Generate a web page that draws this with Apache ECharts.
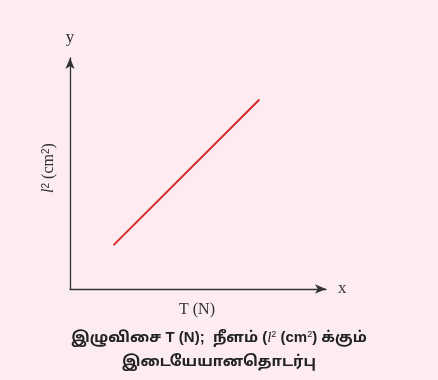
<!DOCTYPE html>
<html><head><meta charset="utf-8">
<script src="https://cdn.jsdelivr.net/npm/echarts@6/dist/echarts.min.js"></script>
<style>html,body{margin:0;padding:0;background:#fcecf1;}#c{width:438px;height:380px;}</style>
</head><body><div id="c"></div>
<script>
const tensionT = [1.7, 7.4];
const lengthSq = [1.9, 8.2];
const xAxisName = 'x';
const yAxisName = 'y';
const xLabel = 'T (N)';
const captionLine2 = 'இடையேயானதொடர்பு';

const chart = echarts.init(document.getElementById('c'));
const serif = '"Liberation Serif","DejaVu Serif",serif';
const capFont = '"Liberation Sans","Noto Sans Tamil","Lohit Tamil","Noto Sans",sans-serif';
chart.setOption({
  backgroundColor: '#fcecf1',
  animation: false,
  grid: {left: 70, right: 112, top: 58, bottom: 91},
  xAxis: {
    type: 'value', min: 0, max: 10,
    name: xAxisName, nameLocation: 'end', nameGap: 12,
    nameTextStyle: {fontFamily: serif, fontSize: 17, color: '#333', verticalAlign: 'middle'},
    axisLine: {show: true, symbol: ['none', 'arrow'], symbolSize: [7, 11], lineStyle: {color: '#333', width: 1.3}},
    axisTick: {show: false}, axisLabel: {show: false}, splitLine: {show: false}
  },
  yAxis: {
    type: 'value', min: 0, max: 10,
    name: yAxisName, nameLocation: 'end', nameGap: 12,
    nameTextStyle: {fontFamily: serif, fontSize: 17, color: '#333', align: 'center'},
    axisLine: {show: true, symbol: ['none', 'arrow'], symbolSize: [7, 11], lineStyle: {color: '#333', width: 1.3}},
    axisTick: {show: false}, axisLabel: {show: false}, splitLine: {show: false}
  },
  series: [{
    type: 'line',
    data: tensionT.map((t, i) => [t, lengthSq[i]]),
    showSymbol: false,
    lineStyle: {color: '#d42a2a', width: 2}
  }],
  graphic: [
    {type: 'text', x: 197, y: 310,
     style: {text: xLabel, font: '16px ' + serif, fill: '#333', align: 'center', verticalAlign: 'middle'}},
    {type: 'text', x: 49, y: 168, rotation: Math.PI / 2,
     style: {text: '{i|l}{s|2} (cm{s|2})', font: '16px ' + serif, fill: '#333', align: 'center', verticalAlign: 'middle',
       rich: {i: {font: 'italic 16px ' + serif, fill: '#333'},
              s: {fontSize: 10, verticalAlign: 'top', fill: '#333', padding: [0,0,6,0]}}}},
    {type: 'text', x: 219, y: 338,
     style: {text: 'இழுவிசை T (N);  நீளம் ({i|l}{s|2} (cm{s|2}) க்கும்', font: 'bold 15px ' + capFont, fill: '#222',
       align: 'center', verticalAlign: 'middle',
       rich: {i: {fontStyle: 'italic', fontWeight: 'normal', fontSize: 15, fontFamily: serif, fill: '#222'},
              s: {fontSize: 9, fill: '#222', verticalAlign: 'top', padding: [0,0,6,0]}}}},
    {type: 'text', x: 219, y: 362,
     style: {text: captionLine2, font: 'bold 15px ' + capFont, fill: '#222', align: 'center', verticalAlign: 'middle'}}
  ]
});
</script></body></html>
